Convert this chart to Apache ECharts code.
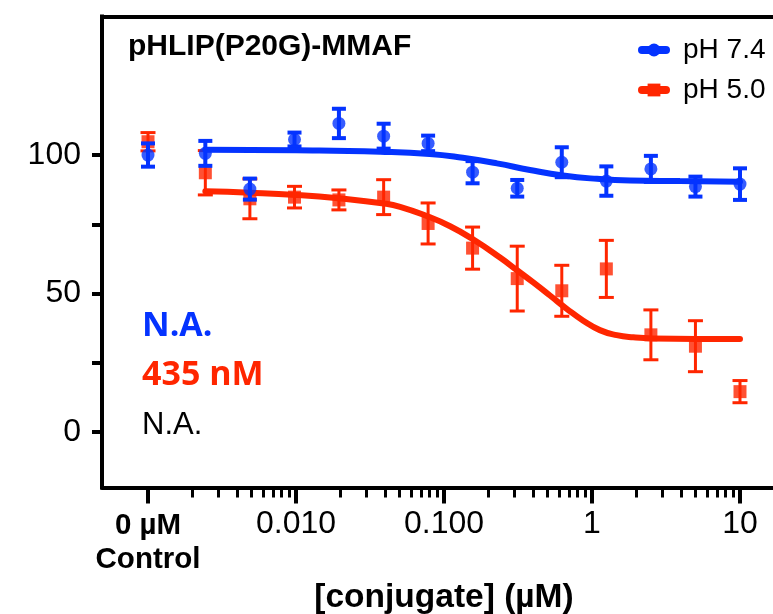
<!DOCTYPE html>
<html>
<head>
<meta charset="utf-8">
<script src="https://cdn.jsdelivr.net/npm/echarts@6/dist/echarts.min.js"></script>
<style>
  html, body { margin: 0; padding: 0; background: #fff; }
  #chart { width: 773px; height: 614px; }
</style>
</head>
<body>
<div id="chart"></div>
<script>
// Concentrations of the two-fold dilution series (µM), lowest to highest
const concentrations = [0.00244, 0.00488, 0.00977, 0.0195, 0.0391, 0.0781, 0.156, 0.3125, 0.625, 1.25, 2.5, 5, 10];
// Plotting position used for the 0 µM control column
const controlPosition = 0.001;

// Measured viability (% of control) with error bars, control first
const ph74Mean = [100.0, 100.6, 87.7, 105.6, 111.4, 106.8, 104.2, 93.8, 88.0, 97.4, 90.6, 95.0, 88.6, 89.5];
const ph74Err  = [4.2, 4.5, 3.8, 2.5, 5.3, 4.5, 2.8, 4.0, 3.0, 5.4, 5.3, 4.7, 3.6, 5.7];
const ph50Mean = [104.8, 93.6, 84.2, 84.8, 83.8, 84.8, 75.3, 66.4, 55.4, 51.0, 58.9, 35.1, 31.0, 14.6];
const ph50Err  = [3.3, 8.0, 7.2, 3.9, 3.6, 6.3, 7.4, 7.6, 11.7, 9.2, 10.3, 9.0, 9.2, 4.0];

// Fitted dose-response curves: concentration (µM) and value
const ph74FitConc  = [0.00244, 0.01, 0.037, 0.080, 0.134, 0.228, 0.381, 0.637, 1.08, 1.81, 3.93, 10];
const ph74FitValue = [101.9, 101.7, 101.2, 100.4, 99.0, 97.0, 94.6, 92.6, 91.4, 90.8, 90.6, 90.4];
const ph50FitConc  = [0.00244, 0.00488, 0.01, 0.0201, 0.0393, 0.0505, 0.0764, 0.110, 0.158, 0.239, 0.31, 0.401, 0.52, 0.675, 0.873, 1.13, 1.47, 1.90, 2.58, 10];
const ph50FitValue = [86.9, 86.4, 85.6, 84.3, 82.5, 81.3, 78.0, 74.3, 69.5, 63.0, 58.5, 54.0, 49.3, 44.5, 40.2, 36.8, 35.0, 34.2, 33.8, 33.6];

// Axis ticks and labels
const xMajorTicks  = [0.001, 0.01, 0.1, 1, 10];
const xMajorLabels = ['{c|0 µM}\n{c|Control}', '0.010', '0.100', '1', '10'];
const xMinorMantissas = [2, 3, 4, 5, 6, 7, 8, 9];
const xMinorDecades   = [0.001, 0.01, 0.1, 1];
const yTicks  = [0, 25, 50, 75, 100];
const yLabels = [0, 50, 100];

const BLUE = '#0433FF';
const RED = '#FF2600';
const FONT = "'Liberation Sans', Arial, Helvetica, sans-serif";

const lg = v => Math.log10(v);
const allPositions = [controlPosition].concat(concentrations);
const toPoints = (mean, err) => allPositions.map((c, i) => [lg(c), mean[i], err[i]]);
const toCurve = (cs, vs) => cs.map((c, i) => [lg(c), vs[i]]);

const xMajorPos = xMajorTicks.map(lg);
const xMinorPos = [];
xMinorDecades.forEach(d => xMinorMantissas.forEach(m => xMinorPos.push(lg(m * d))));

// 148 px per decade, control column 46 px right of the y axis
const xMin = -3.3108, xMax = 1.2230;

function errorBars(color, width, halfCap) {
  return function (params, api) {
    const x = api.value(0), m = api.value(1), e = api.value(2);
    const top = api.coord([x, m + e]);
    const bot = api.coord([x, m - e]);
    const st = { stroke: color, lineWidth: width };
    return {
      type: 'group',
      children: [
        { type: 'line', shape: { x1: top[0], y1: top[1], x2: bot[0], y2: bot[1] }, style: st },
        { type: 'line', shape: { x1: top[0] - halfCap, y1: top[1], x2: top[0] + halfCap, y2: top[1] }, style: st },
        { type: 'line', shape: { x1: bot[0] - halfCap, y1: bot[1], x2: bot[0] + halfCap, y2: bot[1] }, style: st }
      ]
    };
  };
}

const chart = echarts.init(document.getElementById('chart'), null, { renderer: 'canvas' });

chart.setOption({
  animation: false,
  backgroundColor: '#fff',
  grid: { left: 102, right: 0, top: 16.5, bottom: 126.5, outerBoundsMode: 'none', containLabel: false },
  legend: {
    data: ['pH 7.4', 'pH 5.0'],
    orient: 'vertical',
    left: 633, top: 31,
    itemWidth: 24, itemHeight: 16, itemGap: 12,
    lineStyle: { width: 8, cap: 'round' },
    textStyle: { fontFamily: FONT, fontSize: 28, color: '#000', padding: [0, 0, 0, 12] },
    selectedMode: false
  },
  xAxis: [
    {
      type: 'value', min: xMin, max: xMax, position: 'bottom',
      axisLine: { show: true, onZero: false, lineStyle: { color: '#000', width: 4 } },
      axisTick: { show: true, customValues: xMajorPos, length: 16, lineStyle: { color: '#000', width: 4 } },
      axisLabel: {
        show: true, customValues: xMajorPos, margin: 21,
        fontFamily: FONT, fontSize: 32, color: '#000',
        formatter: v => {
          const i = xMajorPos.findIndex(p => Math.abs(p - v) < 1e-6);
          return i >= 0 ? xMajorLabels[i] : '';
        },
        rich: { c: { fontFamily: FONT, fontSize: 29.5, fontWeight: 'bold', color: '#000', lineHeight: 34 } }
      },
      splitLine: { show: false },
      name: '[conjugate] (µM)', nameLocation: 'middle', nameGap: 93,
      nameTextStyle: { fontFamily: FONT, fontSize: 33.5, fontWeight: 'bold', color: '#000', padding: [0, 0, 0, 13] }
    },
    {
      type: 'value', min: xMin, max: xMax, position: 'bottom',
      axisLine: { show: false, onZero: false },
      axisTick: { show: true, customValues: xMinorPos, length: 10, lineStyle: { color: '#000', width: 3 } },
      axisLabel: { show: false },
      splitLine: { show: false }
    },
    {
      type: 'value', min: xMin, max: xMax, position: 'top',
      axisLine: { show: true, onZero: false, lineStyle: { color: '#000', width: 4, cap: 'square' } },
      axisTick: { show: false },
      axisLabel: { show: false },
      splitLine: { show: false }
    }
  ],
  yAxis: {
    type: 'value', min: -20, max: 150,
    axisLine: { show: true, onZero: false, lineStyle: { color: '#000', width: 4, cap: 'square' } },
    axisTick: { show: true, customValues: yTicks, length: 10, lineStyle: { color: '#000', width: 4 } },
    axisLabel: { show: true, customValues: yLabels, margin: 21, fontFamily: FONT, fontSize: 32, color: '#000' },
    splitLine: { show: false }
  },
  graphic: [
    { type: 'text', left: 128, top: 32, style: { text: 'pHLIP(P20G)-MMAF', font: "bold 30px " + FONT, fill: '#000' } },
    { type: 'text', left: 142, top: 309, style: { text: 'N.A.', font: "bold 34px 'Open Sans', sans-serif", fill: BLUE } },
    { type: 'text', left: 142, top: 358, style: { text: '435 nM', font: "bold 34px 'Open Sans', sans-serif", fill: RED } },
    { type: 'text', left: 142, top: 410, style: { text: 'N.A.', font: "31px " + FONT, fill: '#000' } }
  ],
  series: [
    {
      name: 'pH 5.0 error', type: 'custom', xAxisIndex: 0, z: 2,
      renderItem: errorBars(RED, 3, 7.5),
      encode: { x: 0, y: 1 },
      data: toPoints(ph50Mean, ph50Err)
    },
    {
      name: 'pH 5.0 points', type: 'scatter', xAxisIndex: 0, z: 3,
      symbol: 'rect', symbolSize: 13, itemStyle: { color: RED },
      data: toPoints(ph50Mean, ph50Err).map(p => [p[0], p[1]])
    },
    {
      name: 'pH 5.0', type: 'line', xAxisIndex: 0, z: 4,
      symbol: 'rect', showSymbol: false, smooth: 0.5,
      lineStyle: { color: RED, width: 6, cap: 'round' }, itemStyle: { color: RED },
      data: toCurve(ph50FitConc, ph50FitValue)
    },
    {
      name: 'pH 7.4 error', type: 'custom', xAxisIndex: 0, z: 5,
      renderItem: errorBars(BLUE, 4, 7),
      encode: { x: 0, y: 1 },
      data: toPoints(ph74Mean, ph74Err)
    },
    {
      name: 'pH 7.4 points', type: 'scatter', xAxisIndex: 0, z: 6,
      symbol: 'circle', symbolSize: 13, itemStyle: { color: BLUE },
      data: toPoints(ph74Mean, ph74Err).map(p => [p[0], p[1]])
    },
    {
      name: 'pH 7.4', type: 'line', xAxisIndex: 0, z: 7,
      symbol: 'circle', showSymbol: false, smooth: 0.5,
      lineStyle: { color: BLUE, width: 6, cap: 'round' }, itemStyle: { color: BLUE },
      data: toCurve(ph74FitConc, ph74FitValue)
    }
  ]
});
</script>
</body>
</html>
